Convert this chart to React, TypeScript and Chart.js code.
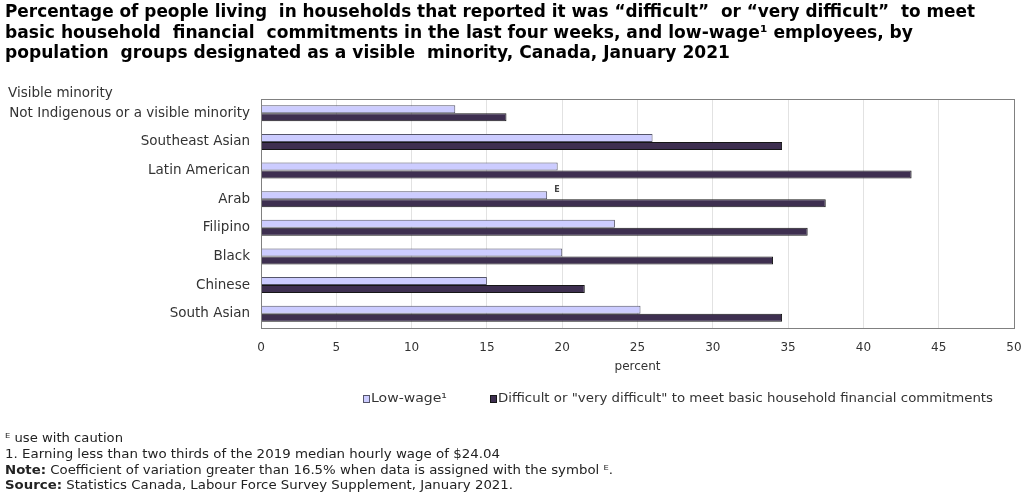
import React, { useEffect, useRef } from "react";
import { Chart, registerables } from "chart.js";

Chart.register(...registerables);

// ---- data ----
const categories = [
  "Not Indigenous or a visible minority",
  "Southeast Asian",
  "Latin American",
  "Arab",
  "Filipino",
  "Black",
  "Chinese",
  "South Asian",
];
const lowWage = [12.9, 26.0, 19.7, 19.0, 23.5, 20.0, 15.0, 25.2];
const difficult = [16.3, 34.6, 43.2, 37.5, 36.3, 34.0, 21.5, 34.6];
const lowWageFlags = ["", "", "", "E", "", "", "", ""];
const seriesLabels = [
  "Low-wage\u00B9",
  "Difficult or \"very difficult\" to meet basic household financial commitments",
];
const xMin = 0;
const xMax = 50;
const xStep = 5;
const xTitle = "percent";
const yHeader = "Visible minority";
const titleLines = [
  "Percentage of people living  in households that reported it was \u201Cdifficult\u201D  or \u201Cvery difficult\u201D  to meet",
  "basic household  financial  commitments in the last four weeks, and low-wage\u00B9 employees, by",
  "population  groups designated as a visible  minority, Canada, January 2021",
];
const footnoteLines: { bold: string; text: string }[] = [
  { bold: "", text: "\u1D31 use with caution" },
  { bold: "", text: "1. Earning less than two thirds of the 2019 median hourly wage of $24.04" },
  { bold: "Note:", text: " Coefficient of variation greater than 16.5% when data is assigned with the symbol \u1D31." },
  { bold: "Source:", text: " Statistics Canada, Labour Force Survey Supplement, January 2021." },
];

// ---- styles ----
const FONT = "'DejaVu Sans', Verdana, sans-serif";
const LIGHT = "#ccccff";
const LIGHT_BORDER = "#55556a";
const DARK = "#3e2f50";
const DARK_BORDER = "#161616";
const TEXT = "#333333";

function drawFitted(
  ctx: CanvasRenderingContext2D,
  parts: { font: string; text: string }[],
  x: number,
  y: number,
  target: number,
  color: string
) {
  let total = 0;
  const widths = parts.map((p) => {
    ctx.font = p.font;
    const w = ctx.measureText(p.text).width;
    total += w;
    return w;
  });
  const s = total > 0 ? target / total : 1;
  ctx.save();
  ctx.translate(x, y);
  ctx.scale(s, 1);
  ctx.fillStyle = color;
  ctx.textBaseline = "middle";
  ctx.textAlign = "left";
  let cx = 0;
  parts.forEach((p, i) => {
    ctx.font = p.font;
    ctx.fillText(p.text, cx, 0);
    cx += widths[i];
  });
  ctx.restore();
}

const decorPlugin = {
  id: "decor",
  afterDraw(chart: any) {
    const ctx: CanvasRenderingContext2D = chart.ctx;
    const area = chart.chartArea;
    ctx.save();

    // plot frame
    ctx.strokeStyle = "#808080";
    ctx.lineWidth = 1;
    ctx.strokeRect(
      Math.round(area.left) + 0.5,
      Math.round(area.top) + 0.5,
      Math.round(area.right - area.left),
      Math.round(area.bottom - area.top)
    );

    // caution flags
    const meta = chart.getDatasetMeta(0);
    lowWageFlags.forEach((f, i) => {
      if (!f) return;
      const el = meta.data[i];
      ctx.font = "bold 8px " + FONT;
      ctx.fillStyle = "#444";
      ctx.textAlign = "left";
      ctx.textBaseline = "middle";
      ctx.fillText(f, el.x + 7, el.y - el.height / 2 - 1);
    });

    // title
    const titleTargets = [970, 908, 725];
    titleLines.forEach((line, i) => {
      drawFitted(ctx, [{ font: "bold 17px " + FONT, text: line }], 5, 13 + i * 20.5, titleTargets[i], "#000");
    });

    // y header
    ctx.font = "13.5px " + FONT;
    ctx.fillStyle = TEXT;
    ctx.textAlign = "left";
    ctx.textBaseline = "middle";
    ctx.fillText(yHeader, 8, 93);

    // legend
    const legendItems = [
      { x: 363, textEnd: 447 },
      { x: 490, textEnd: 993 },
    ];
    const ly = 399;
    chart.data.datasets.forEach((ds: any, i: number) => {
      const it = legendItems[i];
      ctx.fillStyle = ds.backgroundColor;
      ctx.fillRect(it.x, ly - 4, 7, 8);
      ctx.strokeStyle = ds.borderColor;
      ctx.lineWidth = 1;
      ctx.strokeRect(it.x + 0.5, ly - 3.5, 6, 7);
      drawFitted(ctx, [{ font: "12.5px " + FONT, text: ds.label }], it.x + 8, ly, it.textEnd - it.x - 8, TEXT);
    });

    // footnotes
    const footTargets = [118, 495, 608, 508];
    footnoteLines.forEach((fl, i) => {
      const parts = [];
      if (fl.bold) parts.push({ font: "bold 12.5px " + FONT, text: fl.bold });
      parts.push({ font: "12.5px " + FONT, text: fl.text });
      drawFitted(ctx, parts, 5, 439 + i * 15.7, footTargets[i], "#222");
    });

    ctx.restore();
  },
};

export default function App() {
  const ref = useRef<HTMLCanvasElement | null>(null);

  useEffect(() => {
    if (!ref.current) return;
    const chart = new Chart(ref.current, {
      type: "bar",
      data: {
        labels: categories,
        datasets: [
          {
            label: seriesLabels[0],
            data: lowWage,
            backgroundColor: LIGHT,
            borderColor: LIGHT_BORDER,
            borderWidth: 1,
            categoryPercentage: 0.56,
            barPercentage: 1.0,
          },
          {
            label: seriesLabels[1],
            data: difficult,
            backgroundColor: DARK,
            borderColor: DARK_BORDER,
            borderWidth: 1,
            categoryPercentage: 0.56,
            barPercentage: 1.0,
          },
        ],
      },
      options: {
        indexAxis: "y",
        responsive: false,
        maintainAspectRatio: false,
        animation: false,
        devicePixelRatio: 1,
        layout: { padding: { left: 8, right: 10, top: 99, bottom: 122 } },
        plugins: {
          legend: { display: false },
          tooltip: { enabled: false },
          title: { display: false },
        },
        scales: {
          x: {
            type: "linear",
            min: xMin,
            max: xMax,
            ticks: {
              stepSize: xStep,
              color: TEXT,
              font: { family: FONT, size: 12 },
              padding: 13,
            },
            grid: { color: "#e2e2e2", drawTicks: false, lineWidth: 1 },
            border: { display: false },
            title: {
              display: true,
              text: xTitle,
              color: TEXT,
              font: { family: FONT, size: 12 },
              padding: { top: 0, bottom: 1 },
            },
            afterFit: (s: any) => {
              s.height = 47;
              s.paddingLeft = 0;
              s.paddingRight = 0;
            },
          },
          y: {
            type: "category",
            ticks: {
              color: TEXT,
              font: { family: FONT, size: 13.5 },
              padding: 11,
              autoSkip: false,
            },
            grid: { display: false, drawTicks: false },
            border: { display: false },
            afterFit: (s: any) => {
              s.width = 253;
              s.paddingTop = 0;
              s.paddingBottom = 0;
            },
          },
        },
      },
      plugins: [decorPlugin],
    } as any);
    return () => chart.destroy();
  }, []);

  return (
    <div style={{ position: "fixed", left: 0, top: 0, width: 1024, height: 497, background: "#fff" }}>
      <canvas ref={ref} width={1024} height={497} style={{ display: "block" }} />
    </div>
  );
}
